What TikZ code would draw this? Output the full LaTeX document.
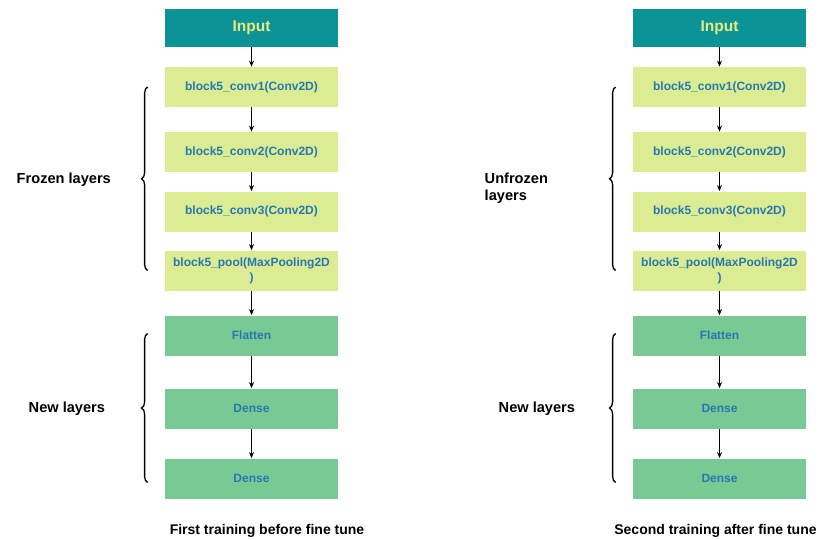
\documentclass[tikz,border=0pt]{standalone}
\usepackage{fontspec}
\setmainfont{Liberation Sans}
\usetikzlibrary{positioning,arrows.meta,decorations.pathreplacing}

\definecolor{inputteal}{RGB}{11,147,150}
\definecolor{inputtext}{RGB}{232,234,128}
\definecolor{convgreen}{RGB}{219,236,146}
\definecolor{densegreen}{RGB}{120,201,148}
\definecolor{layerblue}{RGB}{38,120,178}

\begin{document}
\begin{tikzpicture}[x=1pt, y=-1pt, ->, >={Stealth[length=6pt,width=5pt]}, line width=0.8pt,
    layer/.style={minimum width=173pt, minimum height=40pt, inner sep=0pt, align=center,
        text=layerblue, font=\fontsize{12}{15}\selectfont\bfseries},
    inlayer/.style={layer, fill=inputteal, minimum height=38pt, text=inputtext,
        font=\fontsize{15.5}{18}\selectfont\bfseries},
    convlayer/.style={layer, fill=convgreen},
    denselayer/.style={layer, fill=densegreen},
    side/.style={anchor=west, align=left, font=\fontsize{14.6}{17}\selectfont\bfseries},
    grp/.style={-, line width=1.3pt, decorate, decoration={brace, amplitude=6pt}}]
    \useasboundingbox (0,0) rectangle (818,539);

    % the two stacks of layers
    \foreach \s/\x in {L/251.5, R/719.5} {
        \node[inlayer] (in\s) at (\x,28) {Input};
        \node[convlayer] (c1\s) at (\x,87) {block5\_conv1(Conv2D)};
        \node[convlayer] (c2\s) at (\x,152) {block5\_conv2(Conv2D)};
        \node[convlayer] (c3\s) at (\x,211.5) {block5\_conv3(Conv2D)};
        \node[convlayer] (pool\s) at (\x,270.5) {block5\_pool(MaxPooling2D\\)};
        \node[denselayer] (fl\s) at (\x,335.5) {Flatten};
        \node[denselayer] (d1\s) at (\x,408.5) {Dense};
        \node[denselayer] (d2\s) at (\x,478.5) {Dense};

        \foreach \a/\b in {in/c1, c1/c2, c2/c3, c3/pool, pool/fl, fl/d1, d1/d2}
            \draw (\a\s) -- (\b\s);

        \draw[grp] ([xshift=-17pt]pool\s.west) -- ([xshift=-17pt]c1\s.west);
        \draw[grp] ([xshift=-17pt,yshift=-4pt]d2\s.west) -- ([xshift=-17pt,yshift=2pt]fl\s.west);
    }

    % group labels
    \node[side] (frozen) at (13,180) {Frozen layers};
    \node[side] (newL) at (25,409) {New layers};
    \node[side] (unfrozen) at (481,188) {Unfrozen\\layers};
    \node[side] (newR) at (495,409) {New layers};

    % captions
    \node[side, anchor=center, font=\fontsize{14}{16}\selectfont\bfseries] (capL) at (267,531) {First training before fine tune};
    \node[side, anchor=east, inner sep=1pt, font=\fontsize{14}{16}\selectfont\bfseries] (capR) at (818,531) {Second training after fine tune};
\end{tikzpicture}
\end{document}
